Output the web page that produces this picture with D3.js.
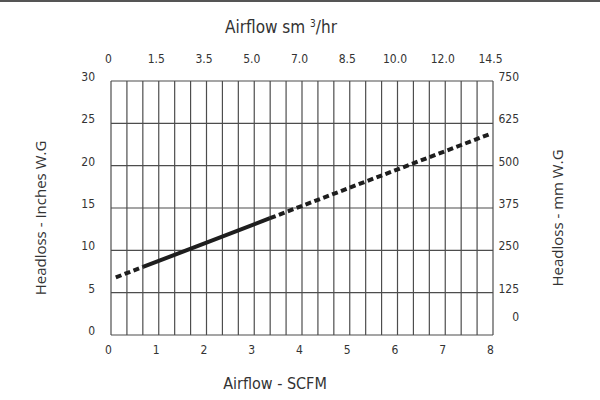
<!DOCTYPE html>
<html>
<head>
<meta charset="utf-8">
<script src="https://cdn.jsdelivr.net/npm/d3@7"></script>
<style>
	body { margin: 0; background: white; }
	.tick text { font-family: "Liberation Sans Narrow", "DejaVu Sans Condensed", sans-serif; font-size: 12px; fill: #333; }
</style>
</head>
<body>
<div id="chart"></div>
<script>
// Bottom axis (SCFM) and top axis labels (sm3/hr)
const scfm_ticks = [0, 1, 2, 3, 4, 5, 6, 7, 8];
const sm3_labels = ["0", "1.5", "3.5", "5.0", "7.0", "8.5", "10.0", "12.0", "14.5"];
const inch_ticks = [0, 5, 10, 15, 20, 25, 30];
const mm_ticks = [0, 125, 250, 375, 500, 625, 750];

// Headloss curve, split in dashed / solid / dashed parts
const dashed_low = [
	{ser1: 0.1, ser2: 6.8},
	{ser1: 0.67, ser2: 8.05}
];
const solid_mid = [
	{ser1: 0.67, ser2: 8.05},
	{ser1: 2.0, ser2: 10.9},
	{ser1: 3.33, ser2: 13.8}
];
const dashed_high = [
	{ser1: 3.33, ser2: 13.8},
	{ser1: 7.92, ser2: 23.7}
];

const W = 600, H = 400;
const margin = {top: 81, right: 107, bottom: 65, left: 111};
const width = W - margin.left - margin.right;
const height = H - margin.top - margin.bottom;

const root = d3.select("#chart").append("svg")
	.attr("width", W)
	.attr("height", H);

// thin dark band across the top of the picture
root.append("rect")
	.attr("x", 0).attr("y", 0)
	.attr("width", W).attr("height", 2)
	.attr("fill", "#555");

const svg = root.append("g")
	.attr("transform", `translate(${margin.left},${margin.top})`);

const x = d3.scaleLinear().domain([0, 8]).range([0, width]);
const y = d3.scaleLinear().domain([0, 30]).range([height, 0]);
const yMM = d3.scaleLinear().domain([0, 750]).range([height, 0]);

// grid: vertical every 1/3 SCFM, horizontal every 5 in
svg.append("g")
	.selectAll("line")
	.data(d3.range(0, 25).map(i => i / 3))
	.join("line")
		.attr("x1", d => x(d)).attr("x2", d => x(d))
		.attr("y1", 0).attr("y2", height)
		.attr("stroke", "#4d4d4d")
		.attr("stroke-width", 1.2);

svg.append("g")
	.selectAll("line")
	.data(inch_ticks)
	.join("line")
		.attr("x1", 0).attr("x2", width)
		.attr("y1", d => y(d)).attr("y2", d => y(d))
		.attr("stroke", "#4d4d4d")
		.attr("stroke-width", 1.2);

// axes (labels only)
const xAxis = d3.axisBottom(x).tickValues(scfm_ticks).tickSize(0).tickPadding(10);
svg.append("g")
	.attr("transform", `translate(0,${height})`)
	.call(xAxis)
	.call(g => g.select(".domain").remove())
	.call(g => g.selectAll("text").attr("dx", -3));

const xTop = d3.axisTop(x).tickValues(scfm_ticks)
	.tickFormat((d, i) => sm3_labels[i]).tickSize(0).tickPadding(18);
svg.append("g")
	.call(xTop)
	.call(g => g.select(".domain").remove())
	.call(g => g.selectAll("text").attr("dx", -3));

const yAxis = d3.axisLeft(y).tickValues(inch_ticks).tickSize(0).tickPadding(16);
svg.append("g")
	.call(yAxis)
	.call(g => g.select(".domain").remove())
	.call(g => g.selectAll("text").attr("dy", "-0.05em"));

const yRight = d3.axisRight(yMM).tickValues(mm_ticks).tickSize(0).tickPadding(26);
svg.append("g")
	.attr("transform", `translate(${width},0)`)
	.call(yRight)
	.call(g => g.select(".domain").remove())
	.call(g => g.selectAll("text").attr("text-anchor", "end").attr("dy", "-0.05em"))
	.call(g => g.selectAll(".tick").filter(d => d === 0).select("text").attr("dy", "-1.25em"));

// headloss line
const line = d3.line()
	.x(d => x(d.ser1))
	.y(d => y(d.ser2));

svg.append("path")
	.datum(dashed_low)
	.attr("d", line)
	.attr("fill", "none")
	.attr("stroke", "#1e1e1e")
	.attr("stroke-width", 4)
	.attr("stroke-dasharray", "6,3.5");

svg.append("path")
	.datum(solid_mid)
	.attr("d", line)
	.attr("fill", "none")
	.attr("stroke", "#1e1e1e")
	.attr("stroke-width", 4);

svg.append("path")
	.datum(dashed_high)
	.attr("d", line)
	.attr("fill", "none")
	.attr("stroke", "#1e1e1e")
	.attr("stroke-width", 4)
	.attr("stroke-dasharray", "6,3.5");

// titles
const title = root.append("text")
	.attr("x", 281)
	.attr("y", 33)
	.attr("text-anchor", "middle")
	.attr("font-family", "'Liberation Sans Narrow', 'DejaVu Sans Condensed', sans-serif")
	.attr("font-size", 17)
	.attr("fill", "#333");
title.append("tspan").text("Airflow sm ");
title.append("tspan").attr("font-size", 10).attr("dy", -6).text("3");
title.append("tspan").attr("dy", 6).text("/hr");

root.append("text")
	.attr("x", 275)
	.attr("y", 389)
	.attr("text-anchor", "middle")
	.attr("font-family", "'Liberation Sans Narrow', 'DejaVu Sans Condensed', sans-serif")
	.attr("font-size", 16)
	.attr("fill", "#333")
	.text("Airflow - SCFM");

root.append("text")
	.attr("transform", "translate(46,218) rotate(-90)")
	.attr("text-anchor", "middle")
	.attr("font-family", "'Open Sans', sans-serif")
	.attr("font-size", 15)
	.attr("fill", "#333")
	.text("Headloss - Inches W.G");

root.append("text")
	.attr("transform", "translate(563,218) rotate(-90)")
	.attr("text-anchor", "middle")
	.attr("font-family", "'Open Sans', sans-serif")
	.attr("font-size", 15)
	.attr("fill", "#333")
	.text("Headloss - mm W.G");
</script>
</body>
</html>
